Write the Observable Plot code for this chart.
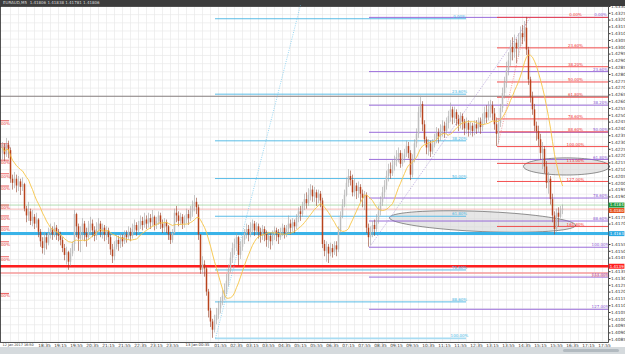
<!DOCTYPE html>
<html><head><meta charset="utf-8">
<script src="https://cdn.jsdelivr.net/npm/d3@7"></script>
<script src="https://cdn.jsdelivr.net/npm/@observablehq/plot@0.6"></script>
<style>
body{margin:0;background:#fff;font-family:"DejaVu Sans",sans-serif;width:625px;height:354px;overflow:hidden}
#top{height:6px;background:#3d3d3d;color:#d8d8d8;font-size:4px;line-height:5px;padding-left:3px;white-space:nowrap;overflow:hidden}
#bot{height:7px;background:#d5dadd;position:relative}
#thumb{position:absolute;left:563px;top:2px;width:56px;height:3px;background:#b2bac0;border-radius:2px}
#chart svg{display:block}
</style></head><body>
<div id="top">EURAUD,M5&nbsp; 1.41806 1.41838 1.41781 1.41806</div>
<div id="chart"></div>
<div id="bot"><div id="thumb"></div></div>
<script>
// prices in units of 0.0001 (e.g. 14226 = 1.4226), 5-minute candles
const firstOpen = 14222;
const close = [14226,14221,14228,14224,14203,14200,14203,14198,14201,14197,14199,14181,14176,14179,14172,14175,14170,14173,14164,14157,14152,14160,14156,14163,14166,14162,14167,14164,14161,14158,14152,14147,14149,14142,14148,14155,14177,14168,14159,14164,14170,14163,14160,14167,14170,14165,14161,14166,14170,14164,14167,14162,14165,14160,14151,14146,14153,14158,14155,14160,14157,14162,14160,14164,14161,14166,14169,14165,14168,14172,14169,14173,14170,14174,14171,14175,14169,14172,14176,14170,14167,14171,14168,14162,14158,14163,14178,14176,14172,14175,14170,14173,14177,14174,14179,14183,14186,14182,14162,14136,14140,14137,14120,14106,14098,14092,14099,14103,14108,14112,14117,14121,14128,14136,14145,14152,14155,14160,14147,14153,14158,14163,14166,14162,14167,14170,14165,14168,14164,14161,14166,14163,14158,14161,14157,14162,14165,14163,14160,14164,14167,14163,14166,14170,14167,14171,14168,14174,14179,14177,14183,14188,14185,14191,14195,14190,14193,14189,14192,14187,14155,14150,14153,14148,14152,14149,14154,14151,14165,14176,14184,14191,14200,14205,14202,14193,14198,14194,14197,14192,14189,14191,14167,14160,14164,14169,14166,14173,14179,14186,14193,14198,14205,14210,14207,14213,14216,14219,14222,14214,14218,14221,14227,14222,14206,14217,14229,14236,14252,14258,14243,14232,14226,14229,14223,14228,14232,14237,14234,14239,14242,14238,14244,14249,14254,14248,14252,14247,14243,14249,14245,14240,14244,14239,14242,14238,14243,14240,14245,14241,14247,14252,14248,14254,14257,14251,14243,14236,14244,14255,14266,14274,14283,14290,14300,14296,14303,14299,14305,14310,14307,14314,14298,14276,14263,14254,14242,14238,14232,14222,14225,14212,14200,14203,14188,14176,14166,14178,14175,14180,14181];
const high = [14230,14229,14233,14231,14226,14206,14208,14206,14205,14203,14204,14200,14183,14186,14181,14180,14177,14178,14174,14166,14160,14164,14163,14167,14170,14168,14171,14169,14166,14164,14160,14155,14153,14150,14152,14157,14180,14178,14170,14168,14174,14172,14167,14172,14175,14173,14168,14171,14174,14172,14170,14169,14168,14167,14162,14155,14157,14162,14161,14163,14162,14165,14165,14168,14167,14170,14173,14171,14172,14176,14175,14178,14176,14178,14177,14180,14176,14175,14179,14178,14173,14174,14173,14169,14164,14166,14181,14183,14179,14178,14177,14176,14181,14180,14183,14187,14191,14189,14184,14162,14146,14143,14138,14122,14108,14100,14103,14108,14113,14116,14121,14126,14133,14140,14149,14156,14159,14163,14161,14157,14161,14166,14170,14169,14171,14173,14172,14171,14170,14167,14169,14168,14165,14164,14163,14165,14168,14167,14166,14167,14170,14169,14169,14176,14173,14174,14173,14177,14182,14183,14186,14192,14193,14196,14199,14198,14197,14195,14195,14194,14189,14158,14157,14155,14156,14155,14157,14157,14168,14179,14188,14195,14204,14210,14209,14206,14203,14200,14201,14199,14195,14194,14193,14170,14168,14172,14173,14177,14183,14190,14197,14202,14209,14214,14215,14217,14220,14224,14226,14224,14222,14225,14231,14230,14224,14221,14232,14240,14256,14264,14260,14246,14234,14232,14231,14232,14236,14241,14240,14243,14246,14245,14248,14253,14259,14256,14256,14254,14250,14252,14251,14247,14248,14246,14245,14244,14246,14246,14248,14248,14251,14256,14257,14260,14261,14260,14255,14248,14247,14258,14270,14278,14289,14296,14305,14307,14309,14306,14310,14315,14316,14319,14322,14300,14278,14267,14258,14245,14242,14236,14230,14227,14216,14208,14205,14192,14179,14181,14182,14183,14184];
const low = [14217,14216,14219,14218,14200,14195,14196,14193,14194,14191,14194,14179,14171,14172,14169,14168,14166,14167,14160,14153,14148,14147,14151,14154,14159,14158,14160,14158,14157,14154,14149,14143,14140,14136,14139,14146,14150,14160,14150,14149,14158,14157,14153,14158,14162,14160,14157,14158,14163,14160,14159,14157,14158,14155,14147,14141,14143,14151,14150,14152,14153,14155,14156,14158,14157,14159,14163,14161,14163,14166,14165,14167,14166,14167,14166,14168,14165,14166,14169,14166,14163,14164,14163,14158,14155,14156,14162,14171,14168,14169,14166,14167,14170,14169,14172,14175,14179,14177,14158,14133,14133,14131,14117,14101,14094,14086,14090,14096,14100,14104,14110,14114,14118,14124,14134,14141,14147,14150,14139,14144,14150,14155,14159,14157,14160,14163,14161,14162,14159,14156,14158,14157,14153,14152,14151,14154,14158,14157,14155,14158,14161,14159,14160,14163,14162,14164,14163,14166,14171,14172,14175,14180,14181,14183,14187,14186,14186,14183,14185,14182,14152,14146,14142,14141,14146,14145,14147,14146,14149,14163,14174,14182,14190,14197,14198,14190,14190,14188,14189,14186,14182,14180,14163,14153,14154,14160,14161,14164,14170,14176,14183,14189,14195,14201,14203,14205,14209,14212,14215,14211,14212,14215,14219,14218,14202,14204,14215,14226,14233,14248,14238,14229,14221,14220,14219,14221,14226,14229,14229,14231,14234,14233,14236,14240,14245,14243,14244,14242,14238,14240,14239,14235,14236,14234,14235,14234,14235,14236,14237,14236,14238,14243,14244,14246,14248,14246,14239,14227,14229,14241,14252,14262,14270,14279,14286,14290,14292,14288,14293,14300,14302,14304,14294,14272,14259,14250,14238,14231,14227,14217,14210,14207,14196,14192,14184,14171,14162,14164,14168,14174,14177];

// time axis: candle index of labelled ticks and their labels
const timeTickIdx = [21,29,37,45,53,61,69,77,85,93,109,117,125,133,141,149,157,165,173,181,189,197,205,213,221,229,237,245,253,261,269,277,285,293,301];
const timeTickLabels = ["18:35","19:15","19:55","20:35","21:15","21:55","22:35","23:15","23:55","13 Jan 00:35","01:55","02:35","03:15","03:55","04:35","05:15","05:55","06:35","07:15","07:55","08:35","09:15","09:55","10:35","11:15","11:55","12:35","13:15","13:55","14:35","15:15","15:55","16:35","17:15","17:55"];
const firstTimeLabel = "12 Jan 2017 16:50";
const dayBreakIdx = 93;

// Fibonacci retracements
const fibRatios = [0,0.236,0.382,0.5,0.618,0.786,0.886,1,1.13,1.27,1.618];
const fibCyan   = {hi:14321, lo:14086, x1:106.5, x2:232,  lab:228.5, n:8,  color:"#47b6e4"};
const fibPurple = {hi:14322, lo:14153, x1:183.5, x2:303,  lab:299,   n:10, color:"#8f5cd6"};
const fibRed    = {hi:14322, lo:14227, x1:247.5, x2:303,  lab:286.5, n:11, color:"#f23b3b"};
// trend lines of the fibs (dotted)
const trendLines = [
  {x1:106.5, y1:14086, x2:149, y2:14331, color:"#6cc6ee"},
  {x1:183.5, y1:14153, x2:264, y2:14322, color:"#a48ad0"},
  {x1:247.5, y1:14227, x2:262.5, y2:14322, color:"#f27a7a"}
];
// full-width horizontal lines
const hLines = [
  {p:14264, color:"#6e6464", w:0.8},
  {p:14184, color:"#9fd39f", w:0.8},
  {p:14181, color:"#f3aaa2", w:0.8},
  {p:14163, color:"#3ab3e8", w:3},
  {p:14139, color:"#ff1f1f", w:2.4},
  {p:14134, color:"#f59a9a", w:1.4}
];
// price boxes on the right axis
const priceBoxes = [
  {p:14184, color:"#1e9a3c"},
  {p:14180, color:"#e4521e"},
  {p:14163, color:"#2aa8e2"},
  {p:14139, color:"#ff1f1f"}
];
// left edge labels of an off-screen fib
const leftFib = [14246,14229,14217,14207,14198,14184,14176,14168,14157,14146,14119];
// ellipses: center index, center price, radius (candles), radius (pips), tilt (pips per candle)
const ellipses = [
  {cx:282, cy:14212.4, rx:21.5, ry:6.3, tilt:0},
  {cx:240, cy:14171.9, rx:46.5, ry:7.4, tilt:-0.06}
];

const p = v => v / 1e4;
const candles = close.map((c, k) => {
  const o = k ? close[k-1] : firstOpen;
  return {i:k, o:p(o), c:p(c), h:p(high[k]), l:p(low[k]), up: c >= o};
});
function fibRows(f){
  return fibRatios.slice(0, f.n).map(r => ({
    y: p(f.hi - r*(f.hi - f.lo)), x1:f.x1, x2:f.x2, lab:f.lab, color:f.color,
    text: (r*100).toFixed(2) + "%"
  }));
}
const fibs = [...fibRows(fibCyan), ...fibRows(fibPurple), ...fibRows(fibRed)];
const cyan100 = fibs.find(d => d.color === fibCyan.color && d.text === "100.00%");
cyan100.w = 1.6; cyan100.color2 = "#a8dcf2";
const ellPts = [];
ellipses.forEach((e, id) => {
  for (let t = 0; t <= 72; t++) {
    const a = t / 72 * 2 * Math.PI, dx = e.rx * Math.cos(a);
    ellPts.push({id, x: e.cx + dx, y: p(e.cy + e.ry * Math.sin(a) + e.tilt * dx)});
  }
});
const labelMap = new Map(timeTickIdx.map((d, k) => [d, timeTickLabels[k]]));
// axis ticks every 5 pips, hidden where a price box covers them
const yTicks = d3.range(14085, 14331, 5).filter(v => !priceBoxes.some(b => Math.abs(b.p - v) < 3.5)).map(p);
const yGrid = d3.range(14330, 14080, -6).map(p);
const xGrid = d3.range(4, 304, 4);

const chart = Plot.plot({
  width: 625, height: 341,
  marginTop: 0, marginBottom: 5, marginLeft: 0, marginRight: 17,
  style: {fontFamily: "DejaVu Sans, sans-serif", fontSize: "4.5px", background: "#fff", overflow: "visible"},
  x: {domain: [-1, 303], axis: null},
  y: {domain: [p(14082.94), p(14330)], axis: null},
  marks: [
    Plot.gridX({ticks: xGrid, stroke: "#e9e9e9", strokeOpacity: 1, strokeWidth: 0.7}),
    Plot.gridY({ticks: yGrid, stroke: "#e9e9e9", strokeOpacity: 1, strokeWidth: 0.7}),
    Plot.line(ellPts, {x: "x", y: "y", z: "id", fill: "#d6d6d6", fillOpacity: 0.6, stroke: "#4a4a4a", strokeWidth: 0.6}),
    Plot.ruleY(hLines, {y: d => p(d.p), stroke: d => d.color, strokeWidth: d => d.w}),
    Plot.ruleY(leftFib, {y: p, x1: -1, x2: 3.5, stroke: "#e83a3a", strokeWidth: 0.8}),
    Plot.text(leftFib, {y: p, x: 1.5, text: () => "00%", fill: "#e83a3a", fontSize: 4, dy: 2.5}),
    Plot.ruleY(fibs, {y: "y", x1: "x1", x2: "x2", stroke: d => d.color2 || d.color, strokeWidth: d => d.w || 0.9}),
    Plot.text(fibs, {y: "y", x: "lab", text: "text", fill: "color", fontSize: 4, dy: -2.2}),
    Plot.text([{p:14134}], {y: d => p(d.p), x: 299, text: () => "200.00%", fill: "#f08080", fontSize: 4, dy: 2.6}),
    Plot.link(trendLines, {x1: "x1", x2: "x2", y1: d => p(d.y1), y2: d => p(d.y2), stroke: "color", strokeDasharray: "1,1.3", strokeWidth: 0.7}),
    Plot.ruleX(candles, {x: "i", y1: "l", y2: "h", stroke: d => d.up ? "#a3a3a3" : "#93412a", strokeWidth: 0.6}),
    Plot.ruleX(candles, {x: "i", y1: "o", y2: "c", stroke: d => d.up ? "#bdbdbd" : "#b8431c", strokeWidth: 1.5}),
    Plot.lineY(candles, Plot.windowY({k: 14, anchor: "end"}, {x: "i", y: "c", stroke: "#f6c445", strokeWidth: 0.9})),
    Plot.frame({stroke: "#2a2a2a", strokeWidth: 0.8}),
    Plot.axisY({anchor: "right", ticks: yTicks, tickFormat: d3.format(".4f"), tickSize: 1.5, tickPadding: 1, fontSize: 4.3, fill: "#333", stroke: "#333"}),
    Plot.ruleY(priceBoxes, {y: d => p(d.p), x1: 303.3, x2: 311.2, stroke: "color", strokeWidth: 5}),
    Plot.text(priceBoxes, {y: d => p(d.p), x: 303.6, text: d => (d.p/1e4).toFixed(4), textAnchor: "start", fill: "#fff", fontSize: 4}),
    Plot.axisX({ticks: timeTickIdx, tickFormat: d => d === dayBreakIdx ? "" : labelMap.get(d), tickSize: 0, tickPadding: 1.2, fontSize: 4.3, fill: "#333"}),
    Plot.text([dayBreakIdx], {x: d => d, frameAnchor: "bottom", text: d => labelMap.get(d), textAnchor: "start", dx: -3, dy: 3.3, fontSize: 3.8, fill: "#333"}),
    Plot.text([firstTimeLabel], {frameAnchor: "bottom-left", text: d => d, textAnchor: "start", dx: 2, dy: 3.3, fontSize: 3.4, fill: "#333"})
  ]
});
document.getElementById("chart").appendChild(chart);
</script>
</body></html>
